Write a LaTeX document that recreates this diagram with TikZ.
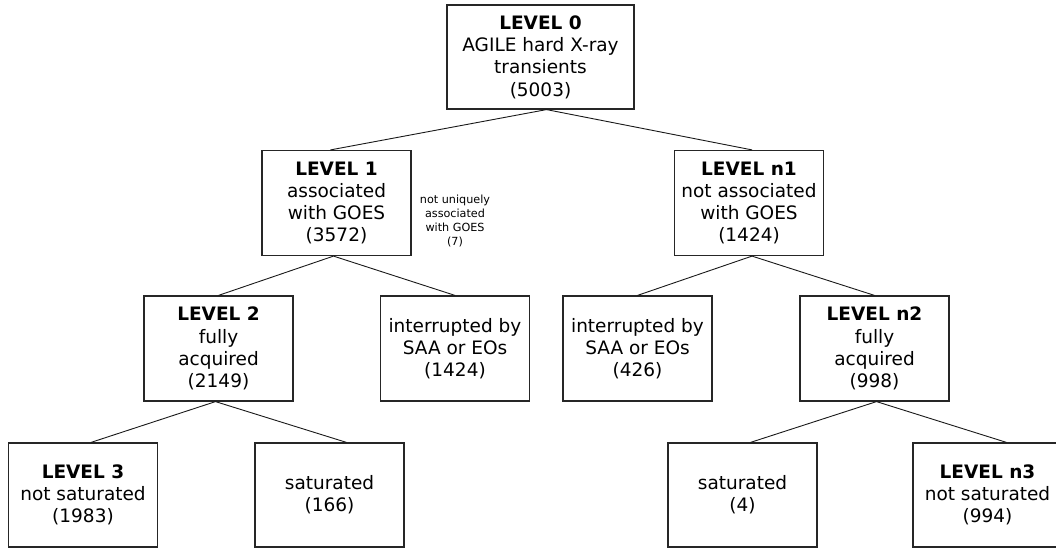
\documentclass[tikz,border=0pt]{standalone}
\usepackage{fontspec}
\setmainfont{DejaVu Sans}

\begin{document}
\begin{tikzpicture}[x=1pt, y=-1pt,
    box/.style={draw=black!85, line width=1.2pt, minimum width=149pt, minimum height=105pt,
                align=center, inner sep=1pt, font=\fontsize{18.5}{22.3}\selectfont},
    link/.style={draw=black!90, line width=0.9pt}]
    \useasboundingbox (0,0) rectangle (1056,548);
    \clip (0,0) rectangle (1056,548);

    % Level 0
    \node[box, minimum width=187pt, minimum height=104pt] (lv0) at (540.5,57)
        {\textbf{LEVEL 0}\\AGILE hard X-ray\\transients\\(5003)};

    % Level 1 / n1
    \node[box] (lv1) at (336.5,203) {\textbf{LEVEL 1}\\associated\\with GOES\\(3572)};
    \node[box] (lvn1) at (749,203) {\textbf{LEVEL n1}\\not associated\\with GOES\\(1424)};
    \node[align=center, font=\fontsize{11.2}{14}\selectfont] (note) at (455,221)
        {not uniquely\\associated\\with GOES\\(7)};

    % Level 2 / n2
    \node[box] (lv2) at (218.5,348.5) {\textbf{LEVEL 2}\\fully\\acquired\\(2149)};
    \node[box] (int1) at (455,348.5) {interrupted by\\SAA or EOs\\(1424)};
    \node[box] (int2) at (637.5,348.5) {interrupted by\\SAA or EOs\\(426)};
    \node[box] (lvn2) at (874.5,348.5) {\textbf{LEVEL n2}\\fully\\acquired\\(998)};

    % Level 3 / n3
    \node[box, minimum height=104pt] (lv3) at (83,495) {\textbf{LEVEL 3}\\not saturated\\(1983)};
    \node[box, minimum height=104pt] (sat1) at (329.5,495) {saturated\\(166)};
    \node[box, minimum height=104pt] (sat2) at (742.5,495) {saturated\\(4)};
    \node[box, minimum height=104pt] (lvn3) at (987.5,495) {\textbf{LEVEL n3}\\not saturated\\(994)};

    % Verbindungen
    \draw[link] ([xshift=6]lv0.south) -- ([xshift=-6]lv1.north);
    \draw[link] ([xshift=6]lv0.south) -- ([xshift=3]lvn1.north);
    \draw[link] ([xshift=-3]lv1.south) -- (lv2.north);
    \draw[link] ([xshift=-3]lv1.south) -- (int1.north);
    \draw[link] ([xshift=3]lvn1.south) -- (int2.north);
    \draw[link] ([xshift=3]lvn1.south) -- (lvn2.north);
    \draw[link] ([xshift=-3]lv2.south) -- ([xshift=8]lv3.north);
    \draw[link] ([xshift=-3]lv2.south) -- ([xshift=17]sat1.north);
    \draw[link] ([xshift=2]lvn2.south) -- ([xshift=8]sat2.north);
    \draw[link] ([xshift=2]lvn2.south) -- ([xshift=19]lvn3.north);
\end{tikzpicture}
\end{document}
